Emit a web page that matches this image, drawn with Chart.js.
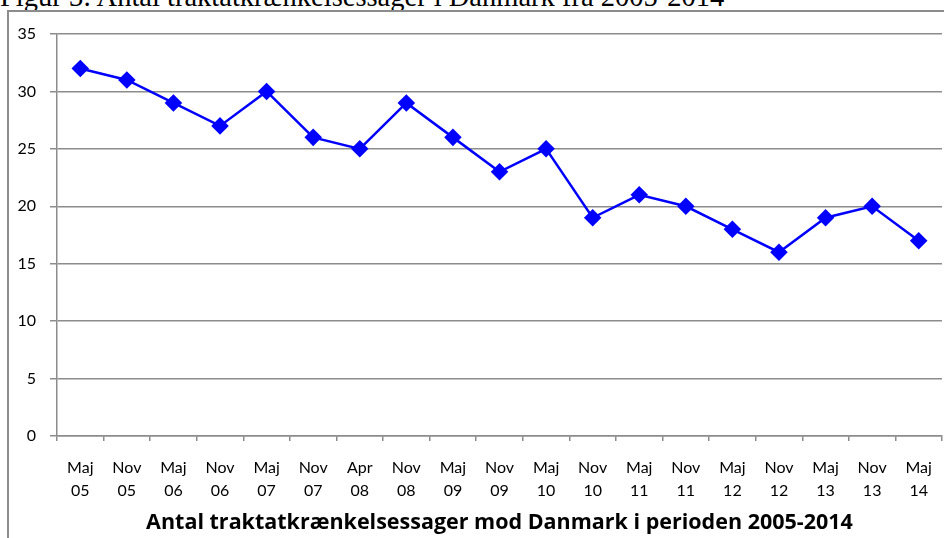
<!DOCTYPE html>
<html>
<head>
<meta charset="utf-8">
<script src="https://cdn.jsdelivr.net/npm/chart.js@4"></script>
<style>
  html, body { margin: 0; padding: 0; background: #fff; }
  body { width: 944px; height: 538px; position: relative; overflow: hidden; }
  #caption {
    position: absolute; left: 0px; top: -17px;
    font: 28.5px "Liberation Serif", "Times New Roman", serif;
    line-height: 28px; white-space: nowrap; color: #000;
  }
  #frame {
    position: absolute; left: 7px; top: 10px; width: 960px; height: 560px;
    border: 2px solid #8c8c8c; box-sizing: border-box;
  }
  #wrap { position: absolute; left: 0; top: 0; width: 944px; height: 538px; }
</style>
</head>
<body>
<div id="caption">Figur 3: Antal traktatkrænkelsessager i Danmark fra 2005-2014</div>
<div id="frame"></div>
<div id="wrap"><canvas id="chart"></canvas></div>
<script>
// periods (month / year) and number of cases
const months = ['Maj', 'Nov', 'Maj', 'Nov', 'Maj', 'Nov', 'Apr', 'Nov', 'Maj', 'Nov',
  'Maj', 'Nov', 'Maj', 'Nov', 'Maj', 'Nov', 'Maj', 'Nov', 'Maj'];
const years = ['05', '05', '06', '06', '07', '07', '08', '08', '09', '09',
  '10', '10', '11', '11', '12', '12', '13', '13', '14'];
const cases = [32, 31, 29, 27, 30, 26, 25, 29, 26, 23, 25, 19, 21, 20, 18, 16, 19, 20, 17];
const yTicks = [0, 5, 10, 15, 20, 25, 30, 35];

const gridGrey = '#8c8c8c';
const blue = '#0000FF';

const labels = months.map((m, i) => [m, years[i]]);

new Chart(document.getElementById('chart').getContext('2d'), {
  type: 'line',
  data: {
    labels: labels,
    datasets: [{
      data: cases,
      borderColor: blue,
      backgroundColor: blue,
      borderWidth: 2.5,
      pointStyle: 'rectRot',
      pointRadius: 7,
      pointHoverRadius: 7,
      pointBackgroundColor: blue,
      pointBorderColor: blue,
      tension: 0,
      clip: false
    }]
  },
  options: {
    responsive: true,
    maintainAspectRatio: false,
    animation: false,
    layout: { autoPadding: false, padding: { top: 34, right: 2, left: 0, bottom: 0 } },
    plugins: { legend: { display: false }, tooltip: { enabled: false } },
    scales: {
      x: {
        offset: true,
        grid: {
          drawOnChartArea: false,
          drawTicks: true,
          tickLength: 5,
          color: gridGrey,
          lineWidth: 1.5,
          offset: true
        },
        border: { color: gridGrey, width: 1.5 },
        ticks: {
          color: '#000',
          font: { family: 'Lato', size: 16, lineHeight: 1.4 },
          maxRotation: 0,
          autoSkip: false,
          padding: 16
        },
        title: {
          display: true,
          text: 'Antal traktatkrænkelsessager mod Danmark i perioden 2005-2014',
          color: '#000',
          font: { family: 'Open Sans', size: 21.5, weight: 'bold', lineHeight: 1.2 },
          padding: { top: 4, bottom: 2 }
        },
        afterFit: (scale) => {
          scale.height = 102;
          scale.paddingLeft = 0;
          scale.paddingRight = 0;
        }
      },
      y: {
        min: 0,
        max: 35,
        afterBuildTicks: (scale) => { scale.ticks = yTicks.map(v => ({ value: v })); },
        grid: {
          color: gridGrey,
          lineWidth: 1.5,
          drawTicks: true,
          tickLength: 7
        },
        border: { color: gridGrey, width: 1.5 },
        ticks: {
          color: '#000',
          font: { family: 'Lato', size: 16 },
          padding: 14
        },
        afterFit: (scale) => { scale.width = 57; }
      }
    }
  }
});
</script>
</body>
</html>
